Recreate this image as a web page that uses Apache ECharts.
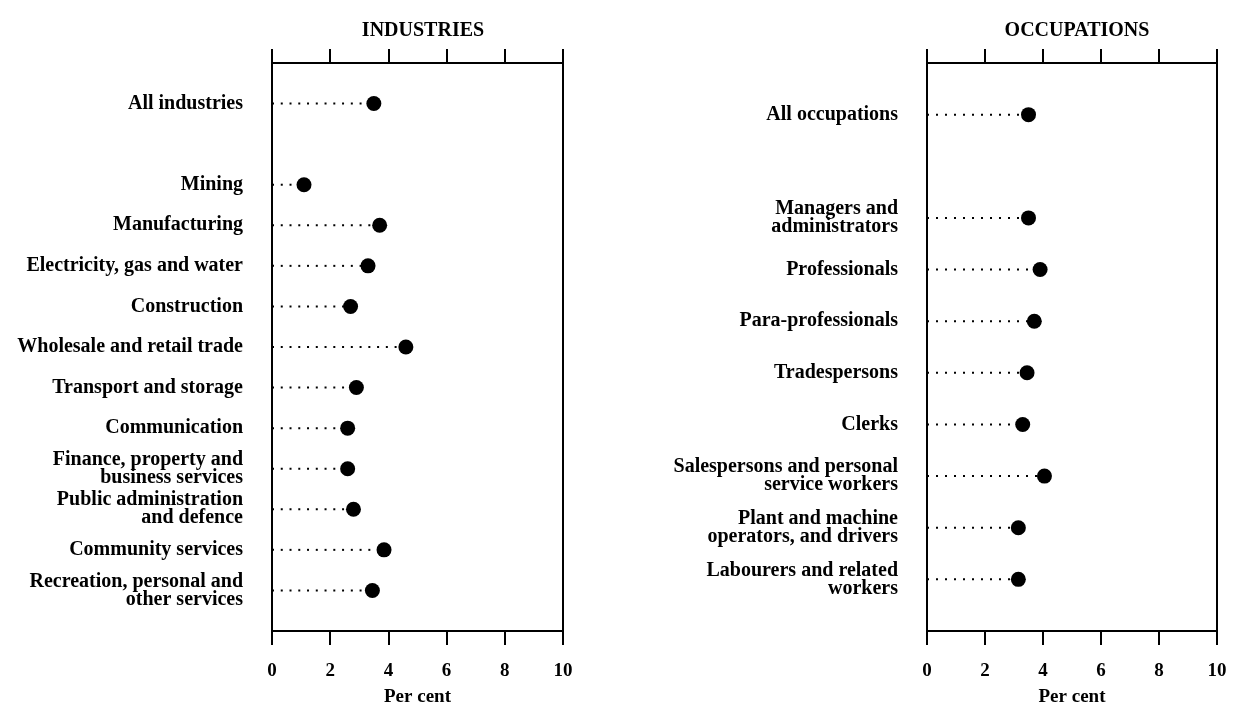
<!DOCTYPE html>
<html>
<head>
<meta charset="utf-8">
<script src="https://cdn.jsdelivr.net/npm/echarts@6/dist/echarts.min.js"></script>
<style>html,body{margin:0;padding:0;background:#fff;overflow:hidden}#c{width:100vw;height:100vh}</style>
</head>
<body>
<div id="c"></div>
<script>
// Industries (blank entries are spacer rows)
const industryCategories = ['', 'All industries', '', 'Mining', 'Manufacturing', 'Electricity, gas and water', 'Construction', 'Wholesale and retail trade', 'Transport and storage', 'Communication', 'Finance, property and\nbusiness services', 'Public administration\nand defence', 'Community services', 'Recreation, personal and\nother services', ''];
const industryValues = ['-', 3.5, '-', 1.1, 3.7, 3.3, 2.7, 4.6, 2.9, 2.6, 2.6, 2.8, 3.85, 3.45, '-'];
// Occupations
const occupationCategories = ['', 'All occupations', '', 'Managers and\nadministrators', 'Professionals', 'Para-professionals', 'Tradespersons', 'Clerks', 'Salespersons and personal\nservice workers', 'Plant and machine\noperators, and drivers', 'Labourers and related\nworkers', ''];
const occupationValues = ['-', 3.5, '-', 3.5, 3.9, 3.7, 3.45, 3.3, 4.05, 3.15, 3.15, '-'];
const xTicks = [0, 2, 4, 6, 8, 10];
const panelTitles = ['INDUSTRIES', 'OCCUPATIONS'];
const xAxisName = 'Per cent';

const FONT = 'Liberation Serif';
const chart = echarts.init(document.getElementById('c'));

function xAxes(gi) {
  const base = {
    gridIndex: gi, type: 'value', min: xTicks[0], max: xTicks[xTicks.length - 1], interval: xTicks[1] - xTicks[0],
    splitLine: { show: false },
    axisLine: { show: true, lineStyle: { color: '#000', width: 2 } },
    axisTick: { show: true, inside: false, length: 14, lineStyle: { color: '#000', width: 2 } }
  };
  return [
    Object.assign({}, base, {
      position: 'bottom',
      axisLabel: { show: true, margin: 31, color: '#000', fontFamily: FONT, fontWeight: 'bold', fontSize: 19 },
      name: xAxisName, nameLocation: 'middle', nameGap: 57,
      nameTextStyle: { color: '#000', fontFamily: FONT, fontSize: 19, fontWeight: 'bold' }
    }),
    Object.assign({}, base, { position: 'top', axisLabel: { show: false } })
  ];
}
function yAxis(gi, cats) {
  return {
    gridIndex: gi, type: 'category', data: cats, inverse: true, boundaryGap: false,
    axisLine: { show: true, lineStyle: { color: '#000', width: 2 } },
    axisTick: { show: false },
    axisLabel: { interval: 0, margin: 29, color: '#000', fontFamily: FONT, fontWeight: 'bold', fontSize: 20, lineHeight: 18, align: 'right' }
  };
}
function seriesFor(gi, vals) {
  return [
    {
      type: 'pictorialBar', xAxisIndex: gi * 2, yAxisIndex: gi, data: vals,
      symbol: 'rect', symbolSize: [2, 2], symbolRepeat: true, symbolMargin: 3.5,
      symbolPosition: 'start', symbolClip: true,
      itemStyle: { color: '#000' }, silent: true, z: 2
    },
    {
      type: 'scatter', xAxisIndex: gi * 2, yAxisIndex: gi, data: vals,
      symbol: 'circle', symbolSize: 15, itemStyle: { color: '#000', opacity: 1 }, z: 3, silent: true
    }
  ];
}

chart.setOption({
  backgroundColor: '#fff',
  animation: false,
  title: [
    { text: panelTitles[0], left: 418, top: 16, textAlign: 'center', textStyle: { fontFamily: FONT, fontSize: 20, fontWeight: 'bold', color: '#000' } },
    { text: panelTitles[1], left: 1072, top: 16, textAlign: 'center', textStyle: { fontFamily: FONT, fontSize: 20, fontWeight: 'bold', color: '#000' } }
  ],
  grid: [
    { left: 272, width: 291, top: 63, bottom: 78, show: true, borderColor: '#000', borderWidth: 2 },
    { left: 927, width: 290, top: 63, bottom: 78, show: true, borderColor: '#000', borderWidth: 2 }
  ],
  xAxis: xAxes(0).concat(xAxes(1)),
  yAxis: [yAxis(0, industryCategories), yAxis(1, occupationCategories)],
  series: seriesFor(0, industryValues).concat(seriesFor(1, occupationValues))
});
window.addEventListener('resize', () => chart.resize());
</script>
</body>
</html>
